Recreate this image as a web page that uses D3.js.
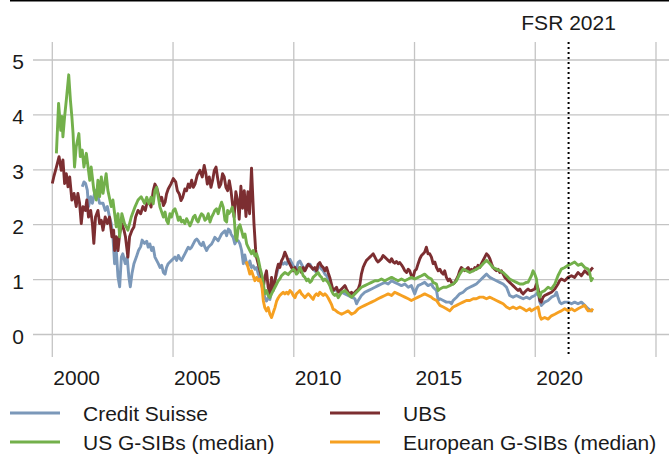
<!DOCTYPE html>
<html>
<head>
<meta charset="utf-8">
<script src="https://cdn.jsdelivr.net/npm/d3@7"></script>
<style>
  body { margin: 0; background: #fff; }
  svg text { font-family: "Liberation Sans", Arial, sans-serif; fill: #1a1a1a; }
</style>
</head>
<body>
<svg width="669" height="454"></svg>
<script>
// [year, value] pairs
const creditSuisse = [[2001.24,2.69],[2001.31,2.78],[2001.38,2.75],[2001.45,2.63],[2001.50,2.33],[2001.59,2.51],[2001.66,2.39],[2001.75,2.57],[2001.82,2.63],[2001.89,2.51],[2001.96,2.39],[2002.10,2.39],[2002.19,2.26],[2002.28,2.33],[2002.37,2.14],[2002.44,2.02],[2002.51,1.78],[2002.58,1.29],[2002.65,1.53],[2002.72,1.05],[2002.79,0.87],[2002.86,1.41],[2002.92,1.47],[2003.02,1.29],[2003.10,1.41],[2003.17,1.05],[2003.23,0.87],[2003.30,1.11],[2003.38,1.29],[2003.48,1.41],[2003.57,1.53],[2003.66,1.60],[2003.72,1.72],[2003.82,1.66],[2003.91,1.70],[2003.97,1.59],[2004.04,1.65],[2004.11,1.53],[2004.18,1.59],[2004.25,1.41],[2004.39,1.29],[2004.46,1.22],[2004.53,1.26],[2004.60,1.13],[2004.67,1.10],[2004.73,1.22],[2004.80,1.29],[2004.87,1.32],[2004.94,1.35],[2005.01,1.38],[2005.08,1.41],[2005.15,1.35],[2005.22,1.44],[2005.29,1.38],[2005.35,1.35],[2005.42,1.41],[2005.49,1.47],[2005.56,1.53],[2005.63,1.59],[2005.70,1.56],[2005.77,1.59],[2005.84,1.65],[2005.91,1.71],[2005.98,1.74],[2006.04,1.71],[2006.11,1.65],[2006.18,1.62],[2006.25,1.68],[2006.32,1.59],[2006.39,1.53],[2006.46,1.59],[2006.53,1.62],[2006.60,1.65],[2006.67,1.71],[2006.73,1.77],[2006.80,1.74],[2006.87,1.71],[2006.94,1.77],[2007.01,1.83],[2007.08,1.86],[2007.15,1.89],[2007.22,1.80],[2007.29,1.92],[2007.36,1.89],[2007.40,1.83],[2007.49,1.77],[2007.56,1.65],[2007.63,1.71],[2007.70,1.71],[2007.77,1.65],[2007.84,1.53],[2007.91,1.29],[2007.97,1.45],[2008.05,1.28],[2008.11,1.25],[2008.18,1.34],[2008.25,1.22],[2008.32,1.25],[2008.39,1.19],[2008.46,1.22],[2008.53,1.10],[2008.60,1.01],[2008.67,0.89],[2008.74,0.80],[2008.80,0.67],[2008.87,0.61],[2008.94,0.67],[2009.01,0.64],[2009.08,0.80],[2009.15,0.89],[2009.22,0.98],[2009.29,1.10],[2009.36,1.22],[2009.42,1.28],[2009.49,1.31],[2009.56,1.28],[2009.63,1.31],[2009.70,1.28],[2009.77,1.34],[2009.84,1.37],[2009.91,1.31],[2009.98,1.25],[2010.05,1.22],[2010.11,1.19],[2010.18,1.31],[2010.25,1.34],[2010.32,1.28],[2010.39,1.22],[2010.46,1.16],[2010.53,1.25],[2010.60,1.28],[2010.67,1.28],[2010.74,1.22],[2010.80,1.19],[2010.87,1.16],[2010.94,1.13],[2011.01,1.22],[2011.08,1.25],[2011.15,1.19],[2011.22,1.16],[2011.29,1.10],[2011.36,1.07],[2011.42,1.01],[2011.49,0.92],[2011.56,0.83],[2011.63,0.80],[2011.70,0.80],[2011.77,0.83],[2011.84,0.78],[2011.98,0.77],[2012.12,0.74],[2012.25,0.71],[2012.39,0.68],[2012.53,0.65],[2012.60,0.56],[2012.67,0.62],[2012.80,0.71],[2012.94,0.77],[2013.08,0.80],[2013.22,0.83],[2013.36,0.86],[2013.49,0.89],[2013.63,0.92],[2013.77,0.95],[2013.91,0.92],[2014.05,0.98],[2014.18,0.95],[2014.32,0.92],[2014.46,0.89],[2014.60,0.92],[2014.74,0.86],[2014.87,0.89],[2015.01,0.74],[2015.08,0.83],[2015.15,0.89],[2015.29,0.92],[2015.42,0.95],[2015.56,0.89],[2015.70,0.92],[2015.77,0.86],[2015.91,0.80],[2015.98,0.62],[2016.05,0.65],[2016.19,0.62],[2016.32,0.59],[2016.46,0.59],[2016.53,0.56],[2016.60,0.62],[2016.74,0.68],[2016.87,0.74],[2017.01,0.77],[2017.15,0.83],[2017.29,0.86],[2017.43,0.89],[2017.56,0.92],[2017.70,0.98],[2017.84,1.04],[2017.98,1.10],[2018.05,1.07],[2018.12,1.04],[2018.25,1.01],[2018.39,0.98],[2018.53,0.95],[2018.67,0.92],[2018.81,0.86],[2018.94,0.71],[2019.08,0.68],[2019.22,0.71],[2019.36,0.68],[2019.50,0.65],[2019.63,0.68],[2019.77,0.65],[2019.84,0.68],[2019.98,0.71],[2020.12,0.77],[2020.19,0.59],[2020.25,0.53],[2020.32,0.56],[2020.39,0.59],[2020.53,0.62],[2020.67,0.68],[2020.81,0.71],[2020.88,0.77],[2020.94,0.68],[2021.01,0.59],[2021.08,0.56],[2021.22,0.59],[2021.36,0.59],[2021.50,0.56],[2021.63,0.59],[2021.77,0.56],[2021.91,0.59],[2022.05,0.53],[2022.19,0.47],[2022.32,0.43],[2022.39,0.43]];

const ubs = [[2000.00,2.75],[2000.06,2.87],[2000.17,3.05],[2000.28,3.24],[2000.37,2.99],[2000.44,3.18],[2000.51,2.75],[2000.58,2.93],[2000.65,2.69],[2000.72,2.87],[2000.81,2.45],[2000.90,2.57],[2000.99,2.33],[2001.06,2.57],[2001.13,2.39],[2001.20,2.02],[2001.27,2.33],[2001.37,2.26],[2001.43,2.45],[2001.50,2.14],[2001.59,2.26],[2001.66,2.02],[2001.72,1.66],[2001.79,2.14],[2001.89,2.26],[2001.96,2.02],[2002.03,2.08],[2002.10,1.90],[2002.19,2.14],[2002.28,2.02],[2002.37,2.14],[2002.47,1.78],[2002.54,1.90],[2002.58,1.53],[2002.65,1.78],[2002.72,1.53],[2002.79,1.84],[2002.88,2.02],[2002.97,1.90],[2003.03,1.78],[2003.13,1.41],[2003.20,1.78],[2003.30,1.90],[2003.38,1.96],[2003.45,2.14],[2003.55,2.26],[2003.66,2.20],[2003.75,2.33],[2003.85,2.26],[2003.91,2.38],[2004.00,2.44],[2004.09,2.32],[2004.18,2.62],[2004.25,2.74],[2004.32,2.68],[2004.39,2.56],[2004.46,2.44],[2004.53,2.50],[2004.60,2.35],[2004.67,2.41],[2004.73,2.56],[2004.80,2.65],[2004.91,2.74],[2005.01,2.84],[2005.11,2.78],[2005.18,2.62],[2005.26,2.56],[2005.33,2.44],[2005.40,2.50],[2005.49,2.65],[2005.56,2.62],[2005.63,2.74],[2005.70,2.68],[2005.77,2.81],[2005.84,2.68],[2005.91,2.74],[2006.00,2.90],[2006.11,2.99],[2006.21,2.87],[2006.29,3.08],[2006.36,2.93],[2006.42,2.74],[2006.50,2.87],[2006.57,2.68],[2006.64,2.81],[2006.71,2.99],[2006.78,3.05],[2006.84,2.87],[2006.91,2.68],[2006.98,2.74],[2007.05,2.93],[2007.12,2.87],[2007.19,2.68],[2007.26,2.62],[2007.33,2.80],[2007.40,2.62],[2007.47,2.35],[2007.53,2.14],[2007.60,2.60],[2007.67,2.45],[2007.74,2.10],[2007.81,2.70],[2007.88,2.30],[2007.95,2.62],[2008.02,2.15],[2008.10,2.60],[2008.17,2.20],[2008.25,3.03],[2008.35,2.03],[2008.42,1.54],[2008.46,1.40],[2008.53,1.28],[2008.60,1.16],[2008.67,1.04],[2008.74,0.86],[2008.80,1.04],[2008.87,1.16],[2008.94,0.86],[2009.01,0.73],[2009.08,1.04],[2009.15,0.80],[2009.22,0.98],[2009.29,1.16],[2009.36,1.28],[2009.42,1.22],[2009.49,1.34],[2009.56,1.40],[2009.63,1.50],[2009.70,1.43],[2009.77,1.34],[2009.84,1.28],[2009.91,1.22],[2009.98,1.16],[2010.05,1.22],[2010.11,1.13],[2010.18,1.16],[2010.25,1.22],[2010.32,1.13],[2010.39,1.22],[2010.46,1.16],[2010.53,1.22],[2010.60,1.28],[2010.67,1.25],[2010.74,1.22],[2010.80,1.19],[2010.87,1.22],[2010.94,1.16],[2011.01,1.28],[2011.08,1.31],[2011.15,1.25],[2011.22,1.22],[2011.29,1.16],[2011.36,1.22],[2011.42,1.13],[2011.49,1.04],[2011.56,0.92],[2011.63,0.80],[2011.70,0.83],[2011.77,0.86],[2011.84,0.77],[2011.91,0.80],[2011.98,0.83],[2012.05,0.86],[2012.12,0.89],[2012.18,0.83],[2012.25,0.77],[2012.32,0.74],[2012.39,0.77],[2012.46,0.71],[2012.53,0.77],[2012.60,0.80],[2012.67,0.83],[2012.74,0.92],[2012.80,1.10],[2012.87,1.22],[2012.94,1.29],[2013.01,1.35],[2013.08,1.38],[2013.15,1.41],[2013.22,1.44],[2013.29,1.47],[2013.36,1.41],[2013.43,1.35],[2013.49,1.32],[2013.56,1.35],[2013.63,1.38],[2013.70,1.44],[2013.77,1.41],[2013.84,1.38],[2013.91,1.35],[2013.98,1.32],[2014.05,1.38],[2014.12,1.32],[2014.18,1.30],[2014.25,1.33],[2014.32,1.29],[2014.39,1.31],[2014.46,1.27],[2014.53,1.22],[2014.60,1.16],[2014.67,1.13],[2014.74,1.19],[2014.80,1.16],[2014.87,1.07],[2014.94,1.04],[2015.01,1.16],[2015.08,1.19],[2015.15,1.29],[2015.22,1.38],[2015.29,1.44],[2015.36,1.47],[2015.42,1.50],[2015.49,1.59],[2015.56,1.47],[2015.63,1.47],[2015.70,1.41],[2015.77,1.29],[2015.84,1.32],[2015.91,1.22],[2015.98,1.16],[2016.05,1.19],[2016.12,1.13],[2016.19,1.10],[2016.25,1.16],[2016.32,1.04],[2016.39,0.98],[2016.46,1.01],[2016.53,0.95],[2016.60,0.92],[2016.67,0.95],[2016.74,1.01],[2016.81,1.07],[2016.87,1.16],[2016.94,1.22],[2017.01,1.19],[2017.08,1.16],[2017.15,1.19],[2017.22,1.22],[2017.29,1.16],[2017.36,1.19],[2017.43,1.16],[2017.50,1.22],[2017.56,1.19],[2017.63,1.26],[2017.70,1.22],[2017.77,1.29],[2017.84,1.35],[2017.91,1.41],[2017.98,1.47],[2018.05,1.44],[2018.12,1.38],[2018.19,1.29],[2018.25,1.22],[2018.32,1.19],[2018.39,1.16],[2018.46,1.19],[2018.53,1.13],[2018.60,1.16],[2018.67,1.10],[2018.74,1.04],[2018.81,1.01],[2018.87,0.98],[2018.94,0.95],[2019.01,0.92],[2019.08,0.89],[2019.15,0.86],[2019.22,0.83],[2019.29,0.80],[2019.36,0.83],[2019.43,0.77],[2019.50,0.74],[2019.56,0.77],[2019.63,0.80],[2019.70,0.83],[2019.77,0.80],[2019.84,0.80],[2019.98,0.83],[2020.05,0.92],[2020.12,0.83],[2020.19,0.62],[2020.25,0.59],[2020.32,0.68],[2020.39,0.71],[2020.53,0.74],[2020.67,0.77],[2020.81,0.83],[2020.94,0.92],[2021.01,0.98],[2021.08,1.01],[2021.22,0.98],[2021.36,1.04],[2021.50,1.07],[2021.63,1.04],[2021.77,1.13],[2021.91,1.07],[2022.05,1.16],[2022.19,1.10],[2022.32,1.19],[2022.39,1.22]];

const usGsibs = [[2000.17,3.30],[2000.26,4.21],[2000.35,3.72],[2000.40,3.97],[2000.44,3.60],[2000.51,3.97],[2000.58,4.27],[2000.68,4.73],[2000.75,4.27],[2000.81,3.97],[2000.86,3.66],[2000.92,3.05],[2000.99,3.42],[2001.10,3.66],[2001.16,3.24],[2001.24,3.36],[2001.31,3.05],[2001.41,3.30],[2001.55,2.81],[2001.61,3.05],[2001.72,2.63],[2001.82,2.45],[2001.89,2.81],[2001.96,2.51],[2002.03,2.87],[2002.10,2.57],[2002.23,2.93],[2002.30,2.63],[2002.44,2.33],[2002.51,2.45],[2002.65,1.96],[2002.72,2.20],[2002.79,1.78],[2002.88,2.20],[2002.99,2.02],[2003.13,1.90],[2003.27,2.14],[2003.43,2.33],[2003.55,2.45],[2003.68,2.51],[2003.82,2.39],[2003.91,2.50],[2004.00,2.38],[2004.09,2.50],[2004.18,2.38],[2004.25,2.62],[2004.32,2.68],[2004.39,2.50],[2004.46,2.32],[2004.53,2.23],[2004.60,2.14],[2004.67,2.23],[2004.73,2.08],[2004.80,2.02],[2004.87,2.20],[2004.94,2.14],[2005.01,2.26],[2005.08,2.29],[2005.15,2.20],[2005.22,2.08],[2005.29,2.14],[2005.35,2.05],[2005.42,2.08],[2005.49,2.02],[2005.56,2.11],[2005.63,2.05],[2005.70,1.98],[2005.77,2.05],[2005.84,2.14],[2005.91,2.17],[2005.98,2.08],[2006.04,2.05],[2006.11,2.14],[2006.18,2.20],[2006.25,2.17],[2006.32,2.08],[2006.39,2.11],[2006.46,2.20],[2006.53,2.05],[2006.60,2.14],[2006.67,2.20],[2006.73,2.26],[2006.80,2.29],[2006.87,2.20],[2006.94,2.32],[2007.01,2.41],[2007.08,2.32],[2007.15,2.08],[2007.22,2.05],[2007.26,2.26],[2007.31,2.20],[2007.40,2.26],[2007.45,2.32],[2007.53,2.14],[2007.59,1.77],[2007.64,1.71],[2007.70,1.95],[2007.77,2.00],[2007.84,1.89],[2007.91,1.77],[2007.98,1.83],[2008.05,1.65],[2008.11,1.59],[2008.18,1.53],[2008.25,1.47],[2008.32,1.53],[2008.39,1.43],[2008.46,1.47],[2008.53,1.37],[2008.60,1.22],[2008.67,1.10],[2008.74,0.92],[2008.80,0.74],[2008.87,0.80],[2008.94,0.71],[2009.01,0.67],[2009.08,0.74],[2009.15,0.80],[2009.22,0.86],[2009.29,0.92],[2009.36,0.98],[2009.42,1.01],[2009.49,1.07],[2009.56,1.10],[2009.63,1.13],[2009.70,1.11],[2009.77,1.09],[2009.84,1.13],[2009.91,1.16],[2009.98,1.19],[2010.05,1.16],[2010.11,1.10],[2010.18,1.13],[2010.25,1.22],[2010.32,1.16],[2010.39,1.07],[2010.46,1.04],[2010.53,0.98],[2010.60,1.01],[2010.67,0.95],[2010.74,0.98],[2010.80,1.04],[2010.87,1.07],[2010.94,1.10],[2011.01,1.13],[2011.08,1.07],[2011.15,1.04],[2011.22,0.98],[2011.29,1.01],[2011.36,0.98],[2011.42,0.95],[2011.49,0.89],[2011.56,0.80],[2011.63,0.74],[2011.70,0.71],[2011.77,0.74],[2011.84,0.67],[2011.98,0.77],[2012.12,0.80],[2012.25,0.74],[2012.39,0.68],[2012.53,0.74],[2012.67,0.80],[2012.80,0.86],[2012.94,0.89],[2013.08,0.92],[2013.22,0.95],[2013.36,0.98],[2013.49,0.98],[2013.63,1.01],[2013.77,0.98],[2013.91,1.01],[2014.05,1.04],[2014.18,1.01],[2014.32,0.98],[2014.46,1.01],[2014.60,0.98],[2014.74,1.01],[2014.87,1.04],[2015.01,1.01],[2015.15,1.04],[2015.29,1.07],[2015.42,1.10],[2015.56,1.04],[2015.70,1.01],[2015.77,0.95],[2015.91,0.92],[2015.98,0.80],[2016.05,0.83],[2016.19,0.86],[2016.32,0.86],[2016.46,0.89],[2016.60,0.92],[2016.74,0.98],[2016.87,1.10],[2017.01,1.19],[2017.15,1.16],[2017.29,1.13],[2017.43,1.16],[2017.56,1.19],[2017.70,1.22],[2017.84,1.29],[2017.98,1.35],[2018.05,1.32],[2018.12,1.29],[2018.25,1.22],[2018.39,1.19],[2018.53,1.16],[2018.67,1.13],[2018.81,1.07],[2018.94,1.01],[2019.08,0.98],[2019.22,0.95],[2019.36,0.92],[2019.50,0.92],[2019.63,0.95],[2019.70,0.95],[2019.84,1.07],[2019.91,1.16],[2019.98,1.10],[2020.05,1.01],[2020.12,0.74],[2020.19,0.68],[2020.25,0.77],[2020.39,0.80],[2020.53,0.86],[2020.67,0.83],[2020.81,0.92],[2020.94,1.07],[2021.08,1.19],[2021.22,1.22],[2021.36,1.26],[2021.50,1.29],[2021.63,1.32],[2021.77,1.26],[2021.91,1.29],[2022.05,1.22],[2022.19,1.19],[2022.25,1.13],[2022.32,0.98],[2022.39,1.04]];

const europeanGsibs = [[2008.02,1.33],[2008.05,1.31],[2008.11,1.22],[2008.18,1.10],[2008.25,1.16],[2008.32,1.07],[2008.39,0.98],[2008.46,1.04],[2008.53,0.98],[2008.60,1.01],[2008.67,0.92],[2008.74,0.61],[2008.80,0.49],[2008.87,0.43],[2008.94,0.49],[2009.01,0.37],[2009.08,0.31],[2009.15,0.40],[2009.22,0.49],[2009.29,0.61],[2009.36,0.67],[2009.42,0.71],[2009.49,0.74],[2009.56,0.77],[2009.63,0.74],[2009.70,0.77],[2009.77,0.74],[2009.84,0.80],[2009.91,0.77],[2009.98,0.71],[2010.05,0.67],[2010.11,0.74],[2010.18,0.77],[2010.25,0.80],[2010.32,0.74],[2010.39,0.71],[2010.46,0.67],[2010.53,0.71],[2010.60,0.74],[2010.67,0.71],[2010.74,0.67],[2010.80,0.64],[2010.87,0.71],[2010.94,0.74],[2011.01,0.71],[2011.08,0.77],[2011.15,0.74],[2011.22,0.71],[2011.29,0.74],[2011.36,0.71],[2011.42,0.67],[2011.49,0.61],[2011.56,0.55],[2011.63,0.46],[2011.70,0.45],[2011.84,0.40],[2011.98,0.37],[2012.12,0.40],[2012.25,0.43],[2012.39,0.37],[2012.53,0.40],[2012.67,0.47],[2012.80,0.50],[2012.94,0.53],[2013.08,0.56],[2013.22,0.59],[2013.36,0.62],[2013.49,0.65],[2013.63,0.68],[2013.77,0.71],[2013.91,0.74],[2014.05,0.71],[2014.18,0.77],[2014.32,0.74],[2014.46,0.71],[2014.60,0.68],[2014.74,0.65],[2014.87,0.62],[2015.01,0.65],[2015.15,0.68],[2015.29,0.71],[2015.42,0.74],[2015.56,0.71],[2015.70,0.68],[2015.77,0.65],[2015.91,0.62],[2016.05,0.53],[2016.19,0.50],[2016.32,0.47],[2016.46,0.43],[2016.60,0.50],[2016.74,0.53],[2016.87,0.56],[2017.01,0.59],[2017.15,0.62],[2017.29,0.62],[2017.43,0.65],[2017.56,0.65],[2017.70,0.68],[2017.84,0.68],[2017.98,0.65],[2018.12,0.68],[2018.25,0.65],[2018.39,0.62],[2018.53,0.59],[2018.67,0.56],[2018.81,0.50],[2018.94,0.47],[2019.08,0.50],[2019.22,0.47],[2019.36,0.50],[2019.50,0.47],[2019.63,0.43],[2019.77,0.47],[2019.84,0.43],[2019.98,0.47],[2020.12,0.50],[2020.19,0.34],[2020.25,0.28],[2020.39,0.31],[2020.53,0.28],[2020.67,0.34],[2020.81,0.37],[2020.94,0.40],[2021.08,0.43],[2021.22,0.47],[2021.36,0.43],[2021.50,0.47],[2021.63,0.43],[2021.77,0.47],[2021.91,0.50],[2022.05,0.53],[2022.12,0.47],[2022.19,0.43],[2022.32,0.43],[2022.39,0.47]];

const seriesNames = ['Credit Suisse', 'UBS', 'US G-SIBs (median)', 'European G-SIBs (median)'];
const seriesColors = ['#7b98b9', '#7c2e31', '#73b04b', '#f6a021'];
const gridYears = [2000, 2005, 2010, 2015, 2020, 2025];
const yearLabels = ['2000', '2005', '2010', '2015', '2020'];
const yTicks = [0, 1, 2, 3, 4, 5];
const markerYear = 2021.38;
const markerLabel = 'FSR 2021';

const svg = d3.select('svg');
const x = d3.scaleLinear().domain([2000, 2025]).range([52.3, 656]);
const y = d3.scaleLinear().domain([0, 5]).range([334.5, 60]);

// top rule
svg.append('line').attr('x1', 10).attr('x2', 669).attr('y1', 0.75).attr('y2', 0.75)
  .attr('stroke', '#000').attr('stroke-width', 1.5);

// grid
svg.append('g').selectAll('line').data(yTicks).join('line')
  .attr('x1', 33).attr('x2', 669)
  .attr('y1', d => y(d)).attr('y2', d => y(d))
  .attr('stroke', '#c4c4c4').attr('stroke-width', 1.3);

svg.append('g').selectAll('line').data(gridYears).join('line')
  .attr('x1', d => x(d)).attr('x2', d => x(d))
  .attr('y1', 42).attr('y2', 357)
  .attr('stroke', '#c4c4c4').attr('stroke-width', 1.3);

// y labels
svg.append('g').selectAll('text').data(yTicks).join('text')
  .attr('x', 24).attr('y', d => y(d) + 9)
  .attr('text-anchor', 'end').attr('font-size', 21)
  .text(d => d);

// x labels, left aligned on the grid lines
svg.append('g').selectAll('text').data(yearLabels).join('text')
  .attr('x', d => x(+d) + 1).attr('y', 385)
  .attr('font-size', 21)
  .text(d => d);

// lines
const line = d3.line().x(d => x(d[0])).y(d => y(d[1]));
const allSeries = [creditSuisse, ubs, usGsibs, europeanGsibs];
allSeries.forEach((s, i) => {
  svg.append('path').attr('d', line(s))
    .attr('fill', 'none').attr('stroke', seriesColors[i])
    .attr('stroke-width', 2.9).attr('stroke-linejoin', 'round');
});

// FSR marker
svg.append('line').attr('x1', x(markerYear)).attr('x2', x(markerYear))
  .attr('y1', 42).attr('y2', 357)
  .attr('stroke', '#000').attr('stroke-width', 2).attr('stroke-dasharray', '2,3');
svg.append('text').attr('x', x(markerYear)).attr('y', 30)
  .attr('text-anchor', 'middle').attr('font-size', 21).text(markerLabel);

// legend
const legendPos = [[10, 413], [330, 413], [10, 442], [330, 442]];
seriesNames.forEach((name, i) => {
  const [lx, ly] = legendPos[i];
  svg.append('line').attr('x1', lx).attr('x2', lx + 50).attr('y1', ly).attr('y2', ly)
    .attr('stroke', seriesColors[i]).attr('stroke-width', 3);
  svg.append('text').attr('x', lx + 73).attr('y', ly + 8)
    .attr('font-size', 21).text(name);
});
</script>
</body>
</html>
